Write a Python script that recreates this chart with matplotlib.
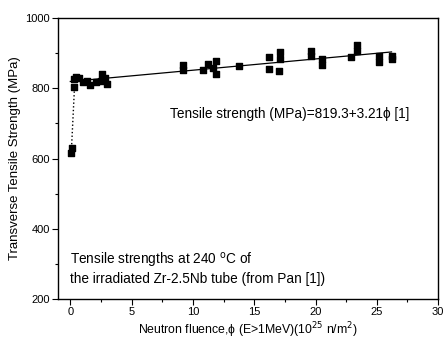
import numpy as np
import matplotlib.pyplot as plt

plt.rcParams['font.family'] = ['Liberation Sans', 'DejaVu Sans']

# data
fluence = [0.05, 0.1,
           0.3, 0.5, 0.7, 0.3, 1.0, 1.4, 1.6, 2.1, 2.5, 2.6, 2.8, 3.0,
           9.2, 9.2, 10.8, 11.2, 11.9, 11.6, 11.9, 13.8,
           16.2, 16.2, 17.1, 17.1, 17.0, 19.6, 19.6, 20.5, 20.5,
           23.4, 23.4, 22.9, 25.2, 25.2, 26.2, 26.2]
strength = [615, 630,
            825, 832, 828, 803, 818, 822, 810, 818, 822, 840, 828, 812,
            852, 866, 852, 870, 878, 858, 842, 864,
            890, 855, 902, 884, 848, 906, 893, 883, 865,
            923, 905, 888, 892, 876, 892, 882]

fit_x = [0, 26.2]
fit_a, fit_b = 819.3, 3.21
link_x = [0.1, 0.35]
link_y = [630, 808]

fig = plt.figure(figsize=(4.43, 3.4), dpi=100)
ax = fig.add_axes([0.131, 0.1206, 0.858, 0.8264])

ax.plot(link_x, link_y, color='black', linestyle=':', linewidth=1)
ax.plot(fit_x, [fit_a + fit_b * x for x in fit_x], color='black', linewidth=0.9)
ax.scatter(fluence, strength, marker='s', s=22, color='black', zorder=3)

ax.set_xlim(-1, 30)
ax.set_ylim(200, 1000)
ax.set_xticks([0, 5, 10, 15, 20, 25, 30])
ax.set_xticks(np.arange(2.5, 30, 5), minor=True)
ax.set_yticks([200, 400, 600, 800, 1000])
ax.set_yticks([300, 500, 700, 900], minor=True)
ax.tick_params(axis='both', which='major', direction='out', length=4, width=0.8,
               labelsize=8, pad=2)
ax.tick_params(axis='both', which='minor', direction='out', length=2.5, width=0.8)
for s in ax.spines.values():
    s.set_linewidth(1.0)

ax.set_xlabel('Neutron fluence,\u03d5 (E>1MeV)(10$^{25}$ n/m$^2$)', fontsize=8.8, labelpad=2)
ax.set_ylabel('Transverse Tensile Strength (MPa)', fontsize=9.5, labelpad=3)

ax.text(8.1, 728, 'Tensile strength (MPa)=819.3+3.21\u03d5 [1]', fontsize=9.8, va='center')
ax.text(0, 286, 'Tensile strengths at 240 $^{\\mathrm{o}}$C of\nthe irradiated Zr-2.5Nb tube (from Pan [1])',
        fontsize=9.8, va='center', linespacing=1.15)

fig.savefig('out.png', dpi=100)
